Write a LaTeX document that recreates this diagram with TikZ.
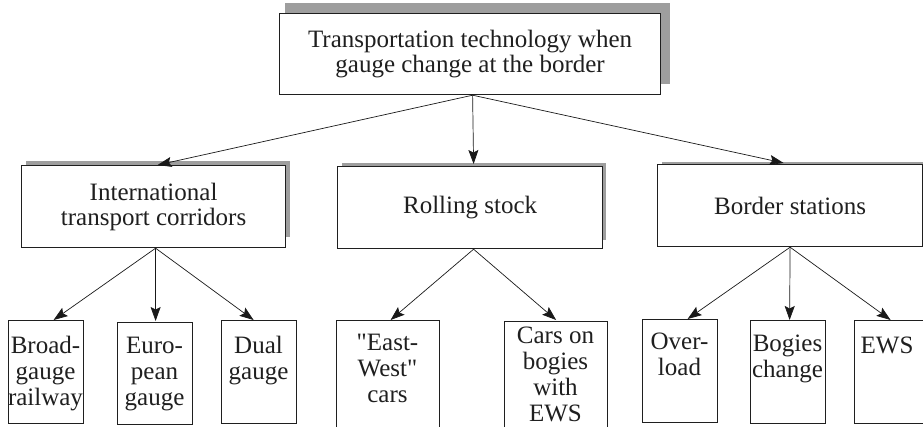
\documentclass[tikz,border=0pt]{standalone}
\usepackage{fontspec}
\newfontfamily\diagserif{Liberation Serif}
\usetikzlibrary{arrows.meta}
\begin{document}
\begin{tikzpicture}[x=1pt,y=-1pt,
  shadowfill/.style={fill=black!38},
  boxstyle/.style={draw=black!88, line width=1.2pt, fill=white, inner sep=0pt, anchor=north west},
  bigtext/.style={font=\diagserif\fontsize{25}{25}\selectfont, text=black!88, align=center},
  lowtext/.style={font=\diagserif\fontsize{25}{26}\selectfont, text=black!88, align=center, inner sep=0pt, anchor=base},
  arr/.style={-{Stealth[length=14pt,width=10pt,inset=2.5pt]}, line width=0.7pt, black!90}]
\useasboundingbox (0,0) rectangle (923,426);
% shadows
\fill[shadowfill] (285,3) rectangle (670,84);
\fill[shadowfill] (26,161) rectangle (290,237);
\fill[shadowfill] (342,163) rectangle (606,240);
\fill[shadowfill] (662,162) rectangle (927,236);
% top box
\node[boxstyle, bigtext, minimum width=381pt, minimum height=81pt] (top) at (279,13)
  {Transportation technology when\\gauge change at the border};
% middle boxes
\node[boxstyle, bigtext, minimum width=264pt, minimum height=82pt] (intl) at (21,165)
  {International\\transport corridors};
\node[boxstyle, bigtext, minimum width=265pt, minimum height=82pt] (roll) at (337,166)
  {Rolling stock};
\node[boxstyle, bigtext, minimum width=265pt, minimum height=82pt] (bord) at (657,164)
  {Border stations};
% bottom boxes
\node[boxstyle, minimum width=75pt, minimum height=103pt] (broad) at (8,320) {};
\node[boxstyle, minimum width=75pt, minimum height=102pt] (euro) at (117,322) {};
\node[boxstyle, minimum width=75pt, minimum height=103pt] (dual) at (221,320) {};
\node[boxstyle, minimum width=103pt, minimum height=120pt] (ew) at (336,320) {};
\node[boxstyle, minimum width=103pt, minimum height=120pt] (cars) at (504,321) {};
\node[boxstyle, minimum width=75pt, minimum height=103pt] (over) at (642,319) {};
\node[boxstyle, minimum width=75pt, minimum height=103pt] (bog) at (750,320) {};
\node[boxstyle, minimum width=75pt, minimum height=103pt] (ews) at (854,320) {};
% bottom texts (base anchor = baseline of last line)
\node[lowtext] (broadT) at (45.5,405) {Broad-\\gauge\\railway};
\node[lowtext] (euroT) at (154.5,405) {Euro-\\pean\\gauge};
\node[lowtext] (dualT) at (258.5,379) {Dual\\gauge};
\node[lowtext] (ewT) at (387.5,402) {"East-\\West"\\cars};
\node[lowtext] (carsT) at (555.5,421) {Cars on\\bogies\\with\\EWS};
\node[lowtext] (overT) at (679.5,375) {Over-\\load};
\node[lowtext] (bogT) at (787.5,377) {Bogies\\change};
\node[lowtext] (ewsT) at (887,353) {EWS};
% connector start points
\coordinate (topS) at ([xshift=2.5pt]top.south);
\coordinate (intlS) at ([xshift=2pt]intl.south);
\coordinate (rollS) at ([xshift=3.5pt]roll.south);
\coordinate (bordS) at (bord.south);
% arrows
\draw[arr] (topS) -- ([xshift=4pt]intl.north);
\draw[arr] (topS) -- ([xshift=3.5pt,yshift=2pt]roll.north);
\draw[arr] (topS) -- ([xshift=-6.5pt,yshift=1pt]bord.north);
\draw[arr] (intlS) -- ([xshift=7.5pt]broad.north);
\draw[arr] (intlS) -- ([xshift=0.5pt,yshift=1pt]euro.north);
\draw[arr] (intlS) -- ([xshift=-5.5pt]dual.north);
\draw[arr] (rollS) -- ([xshift=2.5pt]ew.north);
\draw[arr] (rollS) -- ([yshift=1pt]cars.north);
\draw[arr] (bordS) -- ([xshift=7.5pt]over.north);
\draw[arr] (bordS) -- ([xshift=1.5pt]bog.north);
\draw[arr] (bordS) -- ([xshift=-1.5pt]ews.north);
\end{tikzpicture}
\end{document}
